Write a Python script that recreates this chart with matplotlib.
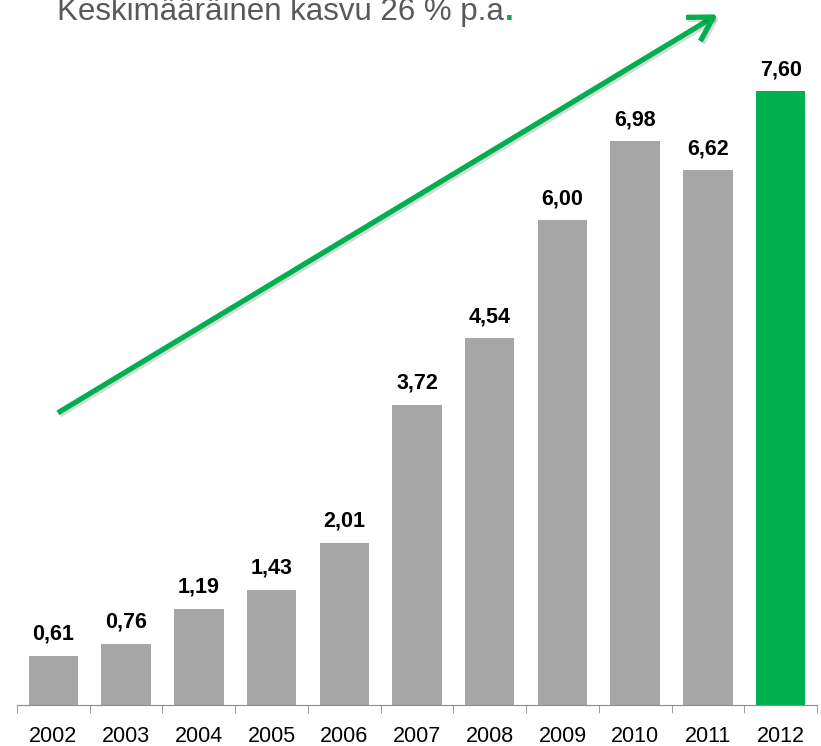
import matplotlib.pyplot as plt
import matplotlib.patheffects as pe

years = ['2002', '2003', '2004', '2005', '2006', '2007', '2008', '2009', '2010', '2011', '2012']
values = [0.61, 0.76, 1.19, 1.43, 2.01, 3.72, 4.54, 6.00, 6.98, 6.62, 7.60]
labels = ['0,61', '0,76', '1,19', '1,43', '2,01', '3,72', '4,54', '6,00', '6,98', '6,62', '7,60']
title_text = 'Keskimääräinen kasvu 26 % p.a'

GREY = '#a6a6a6'
GREEN = '#00b050'
W, H = 821, 746

plt.rcParams['font.family'] = ['Liberation Sans', 'DejaVu Sans']

fig = plt.figure(figsize=(8.21, 7.46), dpi=100)
ax = fig.add_axes([17 / W, 41 / H, 800 / W, 705 / H])

colors = [GREY] * (len(values) - 1) + [GREEN]
x = range(len(values))
ax.bar(x, values, width=0.68, color=colors)

for i, (v, t) in enumerate(zip(values, labels)):
    ax.text(i, v + 0.2, t, ha='center', va='baseline', fontsize=15.5,
            fontweight='bold')

ax.set_xlim(-0.5, len(values) - 0.5)
ax.set_ylim(0, 8.73)
ax.set_xticks(x)
ax.set_xticklabels(years, fontsize=15.5)
ax.set_xticks([i - 0.5 for i in range(len(values) + 1)], minor=True)
ax.tick_params(axis='x', which='major', length=0, pad=15)
ax.tick_params(axis='x', which='minor', length=6, color='#8c8c8c')
ax.set_yticks([])
for s in ['top', 'right', 'left']:
    ax.spines[s].set_visible(False)
ax.spines['bottom'].set_color('#8c8c8c')

# growth arrow
ax.annotate('', xy=(9.17, 8.57), xytext=(0.03, 3.60),
            arrowprops=dict(arrowstyle='->, head_length=1.7, head_width=1.0',
                            color=GREEN, lw=3.8, capstyle='butt', joinstyle='round',
                            path_effects=[pe.SimpleLineShadow(offset=(1.5, -1.5), alpha=0.15),
                                          pe.Normal()]),
            annotation_clip=False)

title = fig.text(57 / W, 1 - 20 / H, title_text, fontsize=22.5,
                 color='#595959', ha='left', va='baseline')
dot = fig.text(0, 1 - 20 / H, '.', fontsize=22.5, color=GREEN, fontweight='bold',
               va='baseline')

fig.canvas.draw()
r = title.get_window_extent()
dot.set_x(r.x1 / W + 0.001)

fig.savefig('out.png', dpi=100)
